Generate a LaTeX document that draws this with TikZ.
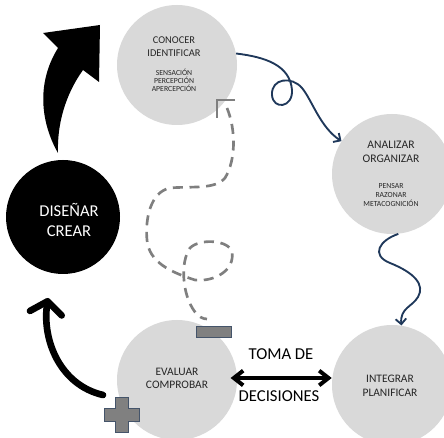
\documentclass[tikz,border=0pt]{standalone}
\usepackage{fontspec}
\setmainfont{Carlito}
\usepackage{xcolor}
\usepackage{tikz}
\usetikzlibrary{arrows.meta}

\definecolor{circgray}{HTML}{D9D9D9}
\definecolor{pathblue}{RGB}{31,56,90}
\definecolor{trailgray}{HTML}{7F7F7F}
\definecolor{signgray}{HTML}{808080}
\definecolor{signedge}{HTML}{44546A}

\begin{document}
\begin{tikzpicture}[x=0.75pt, y=-0.75pt,
  bubble/.style={circle, fill=circgray, minimum size=90pt, inner sep=0pt},
  maintext/.style={align=center, text=black!85, font=\fontsize{8.6}{10.5}\selectfont},
  smalltext/.style={align=center, text=black!85, font=\fontsize{5.8}{6}\selectfont},
  bigtext/.style={align=center, font=\fontsize{12.5}{15}\selectfont},
  wavy/.style={pathblue, line width=1.4pt, -{Straight Barb[length=4pt,width=8pt]}},
  trail/.style={trailgray, line width=2pt, dash pattern=on 7.5pt off 5pt},
  sign/.style={fill=signgray, draw=signedge, line width=0.8pt},
  decide/.style={line width=3pt, {Straight Barb[length=7pt,width=11pt]}-{Straight Barb[length=7pt,width=11pt]}},
  curl/.style={line width=5pt, line cap=round, -{Straight Barb[length=9pt,width=24pt,round]}}
]
\useasboundingbox (0,0) rectangle (444,438);

\node[bubble] (conocer) at (177,65) {};
\node[bubble] (analizar) at (392,174) {};
\node[bubble] (integrar) at (392,385) {};
\node[bubble] (evaluar) at (177,380) {};
\node[circle, fill=black, minimum size=85.5pt, inner sep=0pt] (disenar) at (63,217) {};

\node[maintext, font=\fontsize{7.8}{9.75}\selectfont] (conocerT) at (174,47) {CONOCER\\IDENTIFICAR};
\node[smalltext] (conocerS) at (174,80) {SENSACIÓN\\PERCEPCIÓN\\APERCEPCIÓN};
\node[maintext, font=\fontsize{8.7}{10.5}\selectfont] (analizarT) at (391,152) {ANALIZAR\\ORGANIZAR};
\node[smalltext, font=\fontsize{5.8}{7}\selectfont] (analizarS) at (391,195) {PENSAR\\RAZONAR\\METACOGNICIÓN};
\node[maintext] (integrarT) at (390,386) {INTEGRAR\\PLANIFICAR};
\node[maintext, font=\fontsize{8.6}{9.9}\selectfont] (evaluarT) at (177,378) {EVALUAR\\COMPROBAR};
\node[bigtext, text=white, font=\fontsize{12.4}{15}\selectfont] (disenarT) at (69,220) {DISEÑAR\\CREAR};

\node[bigtext] (toma) at (281,354) {TOMA DE};
\node[bigtext] (decis) at (279,396) {DECISIONES};

\draw[wavy] (conocer.11) .. controls (265,57) and (290,65) .. (292,90)
  .. controls (293,108) and (273,110) .. (272,95)
  .. controls (271,78) and (292,76) .. (302,88)
  .. controls (312,100) and (320,127) .. (analizar.147);
\draw[wavy] (analizar.-84) .. controls (380,240) and (370,255) .. (390,263)
  .. controls (415,273) and (425,285) .. (418,297)
  .. controls (412,307) and (400,308) .. (integrar.81);

\coordinate (gstart) at (217,100);
\coordinate (gend) at (207,319);
\node[sign, minimum width=26.25pt, minimum height=8.25pt, inner sep=0pt] (minus) at (214,332) {};
\draw[trailgray, line width=2pt] (235,100) -- (gstart) -- (217,118);
\draw[trail] (227,108) .. controls (236,130) and (236,160) .. (225,178)
  .. controls (215,190) and (190,186) .. (170,188)
  .. controls (150,192) and (145,220) .. (147,240)
  .. controls (149,262) and (170,272) .. (195,280)
  .. controls (215,282) and (235,270) .. (232,252)
  .. controls (229,240) and (200,238) .. (190,248)
  .. controls (180,262) and (182,295) .. (195,312)
  .. controls (199,317) and (203,319) .. (gend);

\coordinate (dl) at ([xshift=-5pt,yshift=1.5pt]evaluar.east);
\draw[decide] (dl) -- (dl -| integrar.west);

\coordinate (ltail) at (103,395);
\coordinate (ltip) at (48,298);
\draw[curl] (ltail) .. controls (60,385) and (42,340) .. (ltip);

\coordinate (plus) at (122,415);
\path[sign] (plus) ++(-6.5,-17.5) -- ++(13,0) -- ++(0,11) -- ++(11,0) -- ++(0,13) -- ++(-11,0)
  -- ++(0,11) -- ++(-13,0) -- ++(0,-11) -- ++(-11,0) -- ++(0,-13) -- ++(11,0) -- cycle;

\fill[black] (58,153) .. controls (42,125) and (35,85) .. (58,48) -- (43,33) -- (100,25)
  -- (99,82) -- (83,70) .. controls (65,95) and (57,125) .. (58,153) -- cycle;
\end{tikzpicture}
\end{document}
